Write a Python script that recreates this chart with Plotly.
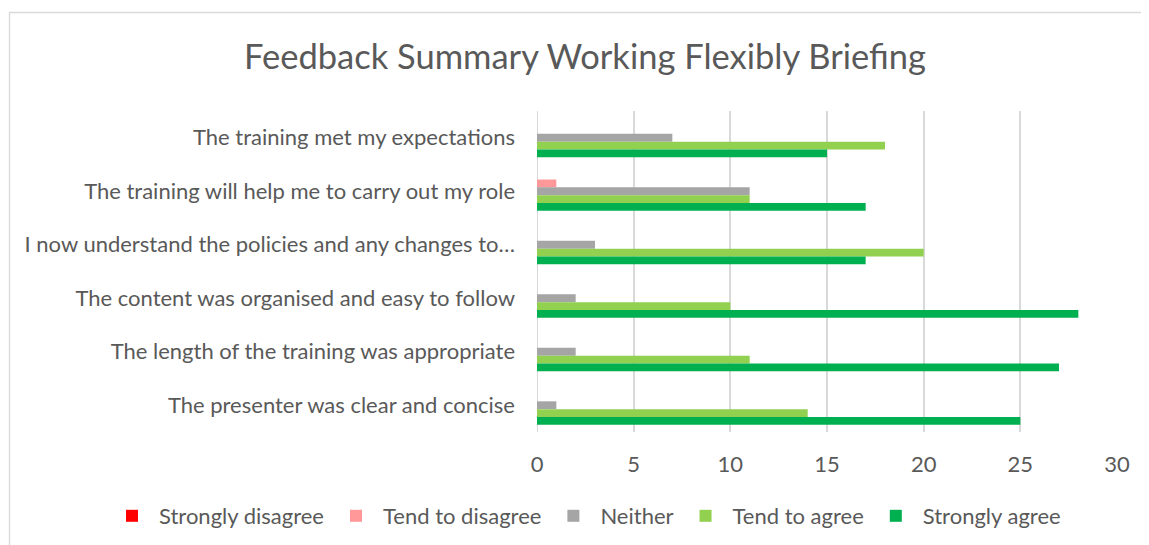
import plotly.graph_objects as go

categories = [
    "The training met my expectations",
    "The training will help me to carry out my role",
    "I now understand the policies and any changes to…",
    "The content was organised and easy to follow",
    "The length of the training was appropriate",
    "The presenter was clear and concise",
]
series_names = ["Strongly disagree", "Tend to disagree", "Neither", "Tend to agree", "Strongly agree"]
strongly_disagree = [0, 0, 0, 0, 0, 0]
tend_to_disagree = [0, 1, 0, 0, 0, 0]
neither = [7, 11, 3, 2, 2, 1]
tend_to_agree = [18, 11, 20, 10, 11, 14]
strongly_agree = [15, 17, 17, 28, 27, 25]
colors = ["#FF0000", "#FF9999", "#A5A5A5", "#92D050", "#00B050"]
x_ticks = [0, 5, 10, 15, 20, 25, 30]

series_values = [strongly_disagree, tend_to_disagree, neither, tend_to_agree, strongly_agree]

FONT = "Lato"
TXT = "#595959"

fig = go.Figure()
for name, vals, col in zip(series_names, series_values, colors):
    fig.add_trace(go.Bar(
        y=categories, x=vals, name=name, orientation="h",
        marker=dict(color=col, line=dict(width=0)),
    ))

OFF = 8  # page body margin
W, H = 1149, 545
# desired page-pixel positions of the plot area
PL, PR, PT, PB = 537, 1117, 111, 432
L = PL - OFF
T = PT - OFF
R = W - (PR - OFF)
B = H - (PB - OFF)
pw, ph = W - L - R, H - T - B

def px_x(p):  # page pixel -> paper x
    return (p - OFF - L) / pw

def px_y(p):  # page pixel -> paper y
    return (H - B - (p - OFF)) / ph

fig.update_layout(
    width=W, height=H,
    margin=dict(l=L, r=R, t=T, b=B),
    paper_bgcolor="white", plot_bgcolor="white",
    barmode="group", bargap=0.27, bargroupgap=0,
    title=dict(text="Feedback Summary Working Flexibly Briefing",
               font=dict(family=FONT, size=34.5, color=TXT),
               x=(585 - OFF) / W, xanchor="center",
               y=1 - (57 - OFF) / H, yanchor="middle"),
    font=dict(family=FONT, color=TXT),
    legend=dict(orientation="h", x=px_x(105), xanchor="left",
                y=px_y(516), yanchor="middle",
                font=dict(family=FONT, size=22, color=TXT),
                itemwidth=44, tracegroupgap=0),
    showlegend=True,
    xaxis=dict(range=[0, 30], tickvals=x_ticks, showgrid=True,
               gridcolor="#D9D9D9", gridwidth=2, zeroline=False,
               showline=False, ticks="", ticklabelstandoff=17,
               tickfont=dict(family=FONT, size=22, color=TXT)),
    yaxis=dict(categoryorder="array", categoryarray=categories,
               autorange="reversed", showgrid=False, zeroline=False,
               showline=False, ticks="", ticklabelstandoff=21,
               tickfont=dict(family=FONT, size=22, color=TXT)),
    shapes=[
        dict(type="rect", xref="paper", yref="paper",
             x0=px_x(9.5), x1=px_x(1170), y0=px_y(570), y1=px_y(12.5),
             line=dict(color="#D9D9D9", width=1.3), layer="below"),
        dict(type="line", xref="x", yref="paper", x0=0, x1=0, y0=0, y1=1,
             line=dict(color="#D9D9D9", width=2), layer="below"),
    ],
)

fig.write_html("out.html")
